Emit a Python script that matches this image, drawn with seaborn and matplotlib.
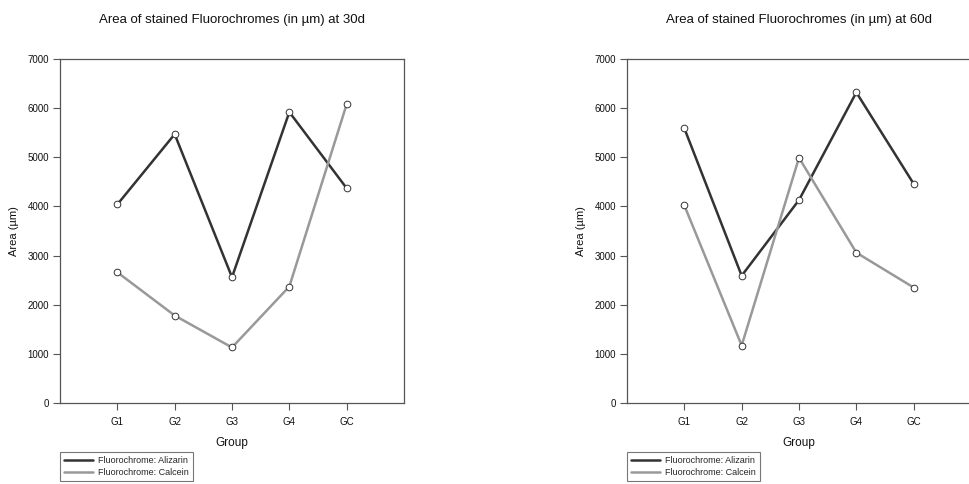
import matplotlib
matplotlib.use("Agg")
import matplotlib.pyplot as plt
import seaborn as sns
import pandas as pd
from matplotlib.lines import Line2D

groups = ["G1", "G2", "G3", "G4", "GC"]
alizarin_30 = [4040, 5470, 2560, 5920, 4370]
calcein_30 = [2660, 1780, 1130, 2370, 6080]
alizarin_60 = [5590, 2590, 4130, 6320, 4460]
calcein_60 = [4020, 1170, 4990, 3060, 2350]
series_names = ["Fluorochrome: Alizarin", "Fluorochrome: Calcein"]
titles = ["Area of stained Fluorochromes (in \u00b5m) at 30d",
          "Area of stained Fluorochromes (in \u00b5m) at 60d"]
yticks = [0, 1000, 2000, 3000, 4000, 5000, 6000, 7000]

sns.set_theme(style="white")
plt.rcParams['font.family'] = ['Liberation Sans', 'DejaVu Sans']

colors = {series_names[0]: "#333333", series_names[1]: "#999999"}
spine_color = "#555555"

W, H = 969, 484
fig = plt.figure(figsize=(W / 100, H / 100), dpi=100)

def px_axes(x0, x1, y0, y1):
    return fig.add_axes([x0 / W, 1 - y1 / H, (x1 - x0) / W, (y1 - y0) / H])

axes_px = [(60, 404, 59, 403), (627, 971, 59, 403)]
datasets = [(alizarin_30, calcein_30), (alizarin_60, calcein_60)]

for (x0, x1, y0, y1), (ali, cal), title in zip(axes_px, datasets, titles):
    ax = px_axes(x0, x1, y0, y1)
    df = pd.DataFrame({
        "Group": groups * 2,
        "Area": ali + cal,
        "series": [series_names[0]] * 5 + [series_names[1]] * 5,
    })
    sns.lineplot(data=df, x="Group", y="Area", hue="series", palette=colors,
                 linewidth=1.8, marker="o", markersize=4.8,
                 markerfacecolor="white", markeredgecolor="#333333",
                 markeredgewidth=0.7, legend=False, ax=ax, sort=False)
    ax.set_xlim(-1, 5)
    ax.set_ylim(0, 7000)
    ax.set_yticks(yticks)
    ax.set_yticklabels([str(v) for v in yticks])
    ax.set_xticks(range(len(groups)))
    ax.set_xticklabels(groups)
    ax.tick_params(axis="both", which="both", direction="out", length=5,
                   width=0.8, color=spine_color, labelsize=7,
                   left=True, bottom=True, labelcolor="#111111")
    ax.tick_params(axis="y", pad=3)
    ax.tick_params(axis="x", pad=5)
    for s in ax.spines.values():
        s.set_color(spine_color)
        s.set_linewidth(0.9)
    ax.set_xlabel("Group", fontsize=8.5, labelpad=7, color="#111111")
    ax.set_ylabel("Area (\u00b5m)", fontsize=8, labelpad=6, color="#111111")
    ax.set_title(title, fontsize=9.5, pad=26, color="#111111")
    handles = [Line2D([0], [0], color=colors[n], lw=1.8) for n in series_names]
    leg = fig.legend(handles, series_names, loc="upper left",
                     bbox_to_anchor=(x0 / W, 1 - 452 / H),
                     fontsize=6.5, frameon=True, fancybox=False,
                     edgecolor=spine_color, handlelength=3.2,
                     handletextpad=0.6, borderpad=0.45, labelspacing=0.3,
                     borderaxespad=0)
    leg.get_frame().set_linewidth(0.8)

fig.savefig("out.png", dpi=100)
